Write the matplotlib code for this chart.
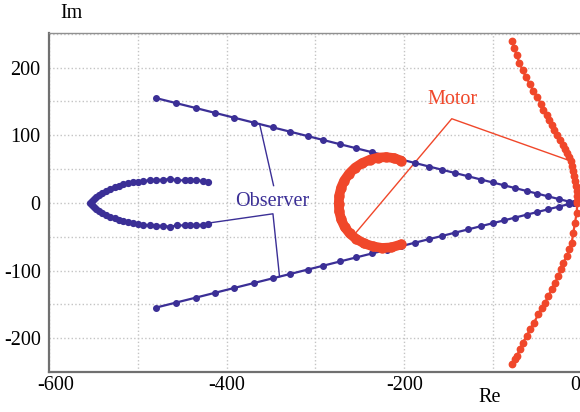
import matplotlib
matplotlib.use('Agg')
from matplotlib import pyplot as plt
from matplotlib.ticker import MultipleLocator

# observer poles, straight branch (upper half, lower half is the conjugate)
obs_line_re = [-479.5, -457, -435, -413, -391.5, -369, -348, -329, -309, -291,
               -272, -254, -236, -219, -204, -188, -172, -157.5, -143, -128,
               -113.6, -100.5, -88, -75, -62, -50.6, -38, -26, -14.6, -9]
obs_line_im = [154.8, 147.4, 140.2, 132.9, 125.8, 118.4, 111.5, 105.3, 98.7, 92.8,
               86.5, 80.6, 74.7, 69.1, 64.2, 58.9, 53.6, 48.9, 44.1, 39.2,
               34.4, 30.1, 26.0, 21.7, 17.4, 13.7, 9.5, 5.6, 1.8, 0.0]

# observer poles, C-shaped branch (upper arm, from right end to vertex)
obs_c_re = [-421, -426.7, -434.9, -440.9, -447.3, -455.9, -464.1, -471.6, -479.1,
            -486.6, -494.2, -499.8, -506, -511, -516.6, -521.1, -526, -530.8,
            -535.3, -539.8, -543.6, -546.6, -549.2, -551.5, -553.5]
obs_c_im = [31.0, 32.4, 33.3, 33.3, 33.3, 33.3, 35.4, 33.9, 33.9,
            33.3, 32.4, 31.4, 30.4, 28.9, 27.4, 25.5, 23.0, 20.6,
            18.1, 14.7, 11.8, 8.8, 5.9, 2.9, 0.0]

# motor poles, arc in the middle
mot_arc_re = [-203.6, -211.5, -220.5, -229.5, -238.5, -247.5, -255.3, -262.1, -267.7,
              -271.1, -273.3, -273.8, -273.3, -271.1, -267.2, -261.5, -254.2,
              -245.2, -235.1, -225, -214.8, -203.6]
mot_arc_im = [62.4, 66.1, 67.6, 66.8, 63.9, 58.7, 52.1, 43.2, 32.9,
              22.6, 10.8, -1.0, -12.8, -24.6, -35.7, -45.3, -53.4,
              -60.0, -64.5, -66.7, -65.9, -61.5]

# motor poles, curve near the imaginary axis (top to bottom)
mot_right_re = [-78.4, -76.5, -73.5, -70.4, -66.7, -63, -58.5, -54.8, -50.3, -46.1,
                -43.5, -39.7, -36.8, -34.1, -31.5, -27.8, -24.7, -21.7, -19.1, -16.5,
                -14.3, -12.7, -11.2, -9.8, -8.7, -7.5, -6.7, -6, -5.6, -5.3,
                -5.3, -6, -7.9, -9.8, -11.6, -14.3, -17.2, -21, -24, -26.7,
                -30.4, -34.1, -37.9, -41.6, -45.3, -49.2, -54, -58.5, -62.2, -66.7,
                -69.7, -73.5, -75.4, -78.4]
mot_right_im = [239.8, 228.6, 218.7, 206.5, 195.6, 185.3, 175.5, 165.6, 155.8, 146.5,
                137.6, 130.2, 122.9, 115.5, 108.1, 100.7, 93.4, 86.0, 80.1, 73.7,
                67.3, 61.4, 54.0, 46.6, 39.2, 31.9, 24.5, 17.1, 9.7, 2.4,
                0.0, -14.7, -29.5, -44.2, -59.0, -68.9, -78.8, -88.5, -98.4, -108.3,
                -118.0, -127.9, -137.8, -147.5, -154.9, -164.7, -177.0, -186.9, -196.8, -206.5,
                -216.4, -226.3, -231.1, -238.5]

x_ticks = [-600, -400, -200, 0]
x_ticklabels = ['-600', '-400', '-200', '0']
y_ticks = [-200, -100, 0, 100, 200]
y_ticklabels = ['-200', '-100', '0', '100', '200']

blue = '#3b2f96'
red = '#f0472a'

plt.rcParams['font.family'] = ['Liberation Serif', 'DejaVu Serif']
plt.rcParams['axes.unicode_minus'] = False

fig = plt.figure(figsize=(5.8, 4.12), dpi=100)
ax = fig.add_axes([49 / 580, 40 / 412, 533 / 580, 339 / 412])

ax.plot(obs_line_re, obs_line_im, '-o', color=blue, lw=1.6, ms=4, zorder=3)
ax.plot(obs_line_re, [-v for v in obs_line_im], '-o', color=blue, lw=1.6, ms=4, zorder=3)
c_re = obs_c_re + obs_c_re[-2::-1]
c_im = obs_c_im + [-v for v in obs_c_im[-2::-1]]
ax.plot(c_re, c_im, '-o', color=blue, lw=1.6, ms=4.2, zorder=3)

ax.plot(mot_arc_re, mot_arc_im, '-', color=red, lw=7, solid_capstyle='round', zorder=3)
ax.plot(mot_arc_re, mot_arc_im, 'o', color=red, ms=6.5, zorder=3)
ax.plot(mot_right_re, mot_right_im, '-o', color=red, lw=1.6, ms=4.6, zorder=3)

# annotation leaders
ax.plot([-363, -347.2], [117, 25.5], color=blue, lw=1, zorder=2)
ax.plot([-418.4, -347.9, -340.5], [-29.5, -16.2, -109], color=blue, lw=1, zorder=2)
ax.text(-348.7, 2, 'Observer', color=blue, fontsize=14.5, ha='center', va='center')
ax.plot([-255.3, -146.6, -17.2], [-45.3, 124.3, 63.9], color=red, lw=1, zorder=2)
ax.text(-146, 152, 'Motor', color=red, fontsize=14.5, ha='center', va='center')

ax.set_xlim(-600, 0)
ax.set_ylim(-250, 251)
# end labels are placed by hand so they stay inside the figure
ax.set_xticks(x_ticks, labels=[''] + x_ticklabels[1:-1] + [''])
ax.set_yticks(y_ticks, labels=y_ticklabels)
ax.xaxis.set_minor_locator(MultipleLocator(100))
ax.yaxis.set_minor_locator(MultipleLocator(50))
ax.grid(True, which='both', color='#c4c4c4', linestyle=':', linewidth=1)
ax.set_axisbelow(True)
ax.tick_params(which='both', length=0, labelsize=14.5)
ax.tick_params(axis='x', pad=3)
ax.tick_params(axis='y', pad=6)
ax.annotate(x_ticklabels[0], xy=(x_ticks[0], 0), xycoords=('data', 'axes fraction'),
            xytext=(5, -3), textcoords='offset points', ha='center', va='top',
            fontsize=14.5, annotation_clip=False)
ax.annotate(x_ticklabels[-1], xy=(x_ticks[-1], 0), xycoords=('data', 'axes fraction'),
            xytext=(-1, -3), textcoords='offset points', ha='right', va='top',
            fontsize=14.5, annotation_clip=False)

for s in ['left', 'bottom']:
    ax.spines[s].set_color('#707070')
    ax.spines[s].set_linewidth(1.6)
ax.spines['top'].set_color('#909090')
ax.spines['top'].set_linewidth(1)
ax.spines['right'].set_visible(False)

fig.text(71 / 580, 1 - 14 / 412, 'Im', fontsize=14.5, ha='center', va='center')
fig.text(490 / 580, 1 - 397 / 412, 'Re', fontsize=14.5, ha='center', va='center')

plt.savefig('out.png', dpi=100)
